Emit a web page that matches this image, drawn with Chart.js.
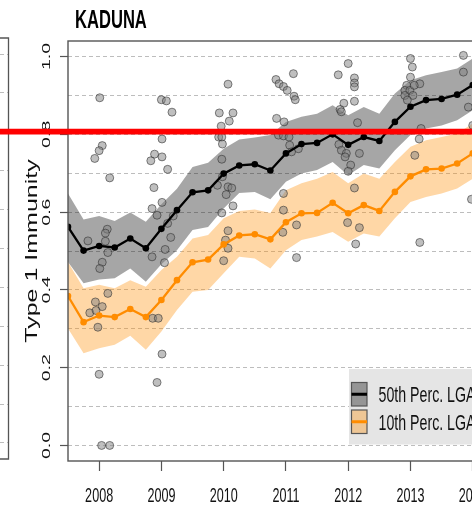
<!DOCTYPE html>
<html>
<head>
<meta charset="utf-8">
<title>KADUNA</title>
<script src="https://cdn.jsdelivr.net/npm/chart.js@4.4.1/dist/chart.umd.min.js"></script>
<style>
  html, body { margin: 0; padding: 0; background: #fff; overflow: hidden; }
  #wrap { width: 540px; height: 507px; }
</style>
</head>
<body>
<div id="wrap"><canvas id="chart" width="540" height="507"></canvas></div>
<script>
// quarterly time points (decimal years)
const years = [2007.5, 2007.75, 2008, 2008.25, 2008.5, 2008.75, 2009, 2009.25, 2009.5, 2009.75,
  2010, 2010.25, 2010.5, 2010.75, 2011, 2011.25, 2011.5, 2011.75, 2012, 2012.25, 2012.5, 2012.75,
  2013, 2013.25, 2013.5, 2013.75, 2014];

// 50th percentile LGA immunity with its band
const median = [0.562, 0.501, 0.513, 0.509, 0.532, 0.507, 0.557, 0.605, 0.651, 0.656,
  0.699, 0.720, 0.723, 0.707, 0.751, 0.775, 0.778, 0.800, 0.773, 0.793, 0.783, 0.832,
  0.871, 0.888, 0.891, 0.902, 0.927];
const medianHi = [0.648, 0.581, 0.590, 0.577, 0.599, 0.575, 0.620, 0.660, 0.716, 0.727,
  0.763, 0.787, 0.792, 0.798, 0.832, 0.845, 0.853, 0.875, 0.849, 0.870, 0.853, 0.905,
  0.939, 0.952, 0.960, 0.969, 0.995];
const medianLo = [0.472, 0.417, 0.427, 0.430, 0.455, 0.421, 0.466, 0.502, 0.554, 0.562,
  0.609, 0.649, 0.652, 0.633, 0.678, 0.699, 0.708, 0.729, 0.695, 0.721, 0.712, 0.759,
  0.798, 0.815, 0.823, 0.836, 0.862];

// 10th percentile LGA immunity with its band
const p10 = [0.384, 0.317, 0.334, 0.330, 0.351, 0.330, 0.374, 0.425, 0.471, 0.478,
  0.517, 0.540, 0.543, 0.530, 0.574, 0.597, 0.598, 0.624, 0.597, 0.618, 0.603, 0.652,
  0.692, 0.710, 0.712, 0.725, 0.751];
const p10Hi = [0.472, 0.404, 0.413, 0.404, 0.425, 0.408, 0.451, 0.485, 0.532, 0.541,
  0.584, 0.603, 0.607, 0.598, 0.656, 0.674, 0.686, 0.703, 0.674, 0.699, 0.686, 0.729,
  0.768, 0.785, 0.793, 0.802, 0.828];
const p10Lo = [0.301, 0.237, 0.250, 0.259, 0.282, 0.246, 0.293, 0.348, 0.395, 0.400,
  0.443, 0.485, 0.481, 0.455, 0.502, 0.528, 0.537, 0.549, 0.524, 0.545, 0.537, 0.584,
  0.626, 0.639, 0.648, 0.661, 0.686];

// individual LGA estimates (jittered around each year)
const scatterYear = [
  2008.01, 2008.05, 2008.00, 2007.93, 2008.17, 2007.82, 2008.13, 2008.10, 2008.10, 2008.14, 2008.05,
  2008.01, 2008.14, 2007.94, 2008.05, 2007.85, 2007.95, 2007.98, 2008.00, 2008.04, 2008.17,
  2009.00, 2009.08, 2009.17, 2009.01, 2008.89, 2008.83, 2009.01, 2009.10, 2008.88, 2008.85, 2009.01,
  2008.93, 2009.10, 2009.19, 2008.85, 2009.15, 2009.06, 2009.05, 2008.86, 2008.95, 2009.01, 2008.93,
  2010.07, 2009.93, 2010.15, 2010.09, 2009.96, 2009.92, 2009.97, 2009.98, 2009.97, 2009.98, 2009.90,
  2010.07, 2010.13, 2010.04, 2010.15, 2009.97, 2010.07, 2010.03, 2010.07, 2010.00,
  2011.12, 2010.84, 2010.89, 2010.96, 2011.02, 2011.13, 2011.15, 2010.85, 2010.97, 2010.88, 2010.96,
  2011.05, 2011.06, 2011.09, 2011.20, 2010.96, 2010.96, 2010.95, 2011.17, 2011.17,
  2012.00, 2011.84, 2012.10, 2012.10, 2012.10, 2011.93, 2012.10, 2011.87, 2011.89, 2012.15, 2011.85,
  2011.89, 2011.97, 2011.95, 2012.18, 2012.04, 2012.00, 2012.10, 2011.99, 2012.18, 2012.12,
  2013.00, 2013.03, 2013.00, 2013.15, 2012.94, 2012.91, 2012.99, 2013.06, 2012.91, 2013.04, 2012.95,
  2013.17, 2013.14, 2013.07, 2013.15,
  2013.85, 2013.85, 2013.93, 2014.00, 2013.98
];
const scatterValue = [
  0.894, 0.771, 0.758, 0.738, 0.688, 0.526, 0.556, 0.546, 0.525, 0.496, 0.471,
  0.455, 0.391, 0.369, 0.357, 0.341, 0.347, 0.304, 0.183, 0.000, 0.000,
  0.889, 0.886, 0.857, 0.788, 0.749, 0.732, 0.742, 0.710, 0.663, 0.609, 0.625,
  0.592, 0.571, 0.590, 0.485, 0.535, 0.504, 0.470, 0.327, 0.327, 0.235, 0.162,
  0.929, 0.855, 0.855, 0.834, 0.821, 0.793, 0.793, 0.775, 0.736, 0.691, 0.669,
  0.665, 0.662, 0.645, 0.616, 0.598, 0.552, 0.528, 0.507, 0.475,
  0.956, 0.941, 0.930, 0.923, 0.913, 0.898, 0.889, 0.841, 0.832, 0.798, 0.796,
  0.793, 0.772, 0.755, 0.763, 0.648, 0.605, 0.548, 0.567, 0.483,
  0.982, 0.953, 0.945, 0.932, 0.922, 0.880, 0.885, 0.864, 0.858, 0.830, 0.774,
  0.759, 0.751, 0.742, 0.751, 0.721, 0.705, 0.662, 0.573, 0.560, 0.518,
  0.995, 0.973, 0.947, 0.930, 0.926, 0.913, 0.913, 0.926, 0.900, 0.900, 0.888,
  0.815, 0.788, 0.746, 0.522,
  1.003, 0.960, 0.870, 0.823, 0.633
];

// axis ticks
const xTickYears = [2008, 2009, 2010, 2011, 2012, 2013, 2014, 2015];
const yGridValues = [0, 0.1, 0.2, 0.3, 0.4, 0.5, 0.6, 0.7, 0.8, 0.9, 1.0];
const yLabelValues = [0, 0.2, 0.4, 0.6, 0.8, 1.0];

const legendLabels = ["50th Perc. LGA", "10th Perc. LGA"];
const redLineLevel = 0.807;

const FONT = '"Liberation Sans", Arial, Helvetica, sans-serif';
const GREY_BAND = "rgba(0,0,0,0.35)";
const ORANGE = "#ff8c00";
const ORANGE_BAND = "rgba(255,140,0,0.35)";

function pairs(xs, ys) {
  return xs.map((x, i) => ({ x: x, y: ys[i] }));
}

function isLabelled(v) {
  return Math.round(v * 10) % 2 === 0;
}

// text in the reference is narrow, so squeeze it horizontally
function drawText(ctx, text, x, y, size, squeeze, opts) {
  opts = opts || {};
  ctx.save();
  ctx.font = (opts.bold ? "bold " : "") + size + "px " + FONT;
  ctx.fillStyle = opts.color || "#111";
  ctx.textAlign = opts.align || "left";
  ctx.textBaseline = "alphabetic";
  ctx.translate(x, y);
  if (opts.vertical) {
    ctx.rotate(-Math.PI / 2);
    ctx.scale(1, squeeze);
  } else {
    ctx.scale(squeeze, 1);
  }
  ctx.fillText(text, 0, 0);
  ctx.restore();
}

const decorations = {
  id: "decorations",
  afterDraw(chart) {
    const ctx = chart.ctx;
    const area = chart.chartArea;
    const xs = chart.scales.x;
    const ys = chart.scales.y;

    // piece of the neighbouring panel on the left
    ctx.save();
    ctx.strokeStyle = "#bdbdbd";
    ctx.lineWidth = 1;
    ctx.setLineDash([4, 3]);
    yGridValues.forEach((v) => {
      const y = Math.round(ys.getPixelForValue(v) - 3) + 0.5;
      ctx.beginPath();
      ctx.moveTo(0, y);
      ctx.lineTo(8, y);
      ctx.stroke();
    });
    ctx.setLineDash([]);
    ctx.strokeStyle = "#555";
    ctx.lineWidth = 1.3;
    ctx.beginPath();
    ctx.moveTo(0, area.top - 3);
    ctx.lineTo(8.5, area.top - 3);
    ctx.lineTo(8.5, area.bottom - 2);
    ctx.lineTo(0, area.bottom - 2);
    ctx.stroke();

    // plot frame
    ctx.strokeStyle = "#555";
    ctx.lineWidth = 1.4;
    ctx.strokeRect(area.left, area.top, area.right - area.left, area.bottom - area.top);
    ctx.restore();

    // legend
    const lx = 349, ltop = 369, lbottom = 444.5;
    ctx.save();
    ctx.fillStyle = "#e5e5e5";
    ctx.fillRect(lx, ltop, 200, lbottom - ltop);
    const boxes = [
      { y: 382.5, fill: GREY_BAND, line: "#000" },
      { y: 410, fill: ORANGE_BAND, line: ORANGE },
    ];
    boxes.forEach((b, i) => {
      ctx.fillStyle = b.fill;
      ctx.fillRect(351.5, b.y, 15.5, 23.5);
      ctx.strokeStyle = "#555";
      ctx.lineWidth = 1.2;
      ctx.strokeRect(351.5, b.y, 15.5, 23.5);
      ctx.strokeStyle = b.line;
      ctx.lineWidth = 3;
      ctx.beginPath();
      ctx.moveTo(351.5, b.y + 11.75);
      ctx.lineTo(367, b.y + 11.75);
      ctx.stroke();
      drawText(ctx, legendLabels[i], 378.5, b.y + 19.5, 21.5, 0.66);
    });
    ctx.restore();

    // tick labels
    yLabelValues.forEach((v) => {
      drawText(ctx, v.toFixed(1), 50, ys.getPixelForValue(v), 19.5, 0.6, { vertical: true, align: "center" });
    });
    xTickYears.forEach((v) => {
      drawText(ctx, String(v), xs.getPixelForValue(v), 501.5, 21, 0.6, { align: "center" });
    });

    // axis title and panel title
    drawText(ctx, "Type 1 Immunity", 36.5, (area.top + area.bottom) / 2, 25, 0.66, { vertical: true, align: "center" });
    drawText(ctx, "KADUNA", 75, 28.3, 25.5, 0.65, { bold: true, color: "#000" });

    // red reference line across the whole figure
    const ry = ys.getPixelForValue(redLineLevel);
    ctx.save();
    ctx.strokeStyle = "#ff0000";
    ctx.lineWidth = 5.8;
    ctx.beginPath();
    ctx.moveTo(0, ry);
    ctx.lineTo(chart.width, ry);
    ctx.stroke();
    ctx.restore();
  },
};

function bandSet(values, fill, color) {
  return {
    data: pairs(years, values),
    fill: fill,
    backgroundColor: color,
    borderColor: "rgba(0,0,0,0)",
    borderWidth: 0,
    pointRadius: 0,
    order: 2,
  };
}

new Chart(document.getElementById("chart"), {
  type: "line",
  data: {
    datasets: [
      {
        label: legendLabels[0],
        data: pairs(years, median),
        borderColor: "#000",
        backgroundColor: "#000",
        borderWidth: 2.3,
        pointRadius: 3.3,
        pointBorderWidth: 0,
        fill: false,
        order: 0,
      },
      {
        label: legendLabels[1],
        data: pairs(years, p10),
        borderColor: ORANGE,
        backgroundColor: ORANGE,
        borderWidth: 2.3,
        pointRadius: 3.3,
        pointBorderWidth: 0,
        fill: false,
        order: 0,
      },
      {
        type: "scatter",
        data: pairs(scatterYear, scatterValue),
        backgroundColor: "rgba(128,128,128,0.5)",
        borderColor: "rgba(40,40,40,0.55)",
        borderWidth: 1,
        pointRadius: 4,
        order: 1,
      },
      bandSet(medianHi, "+1", GREY_BAND),
      bandSet(medianLo, false, GREY_BAND),
      bandSet(p10Hi, "+1", ORANGE_BAND),
      bandSet(p10Lo, false, ORANGE_BAND),
    ],
  },
  options: {
    responsive: false,
    animation: false,
    events: [],
    layout: { padding: { top: 41, right: 5, left: 0, bottom: 0 } },
    plugins: {
      legend: { display: false },
      title: { display: false },
      tooltip: { enabled: false },
    },
    scales: {
      x: {
        type: "linear",
        min: 2007.5,
        max: 2015,
        afterBuildTicks: (s) => { s.ticks = xTickYears.map((v) => ({ value: v })); },
        afterFit: (s) => { s.height = 46; },
        ticks: { display: false },
        grid: { drawOnChartArea: false, drawTicks: true, tickLength: 10, tickColor: "#555", tickWidth: 1.2 },
        border: { display: false },
      },
      y: {
        type: "linear",
        min: -0.04,
        max: 1.04,
        afterBuildTicks: (s) => { s.ticks = yGridValues.map((v) => ({ value: v })); },
        afterFit: (s) => { s.width = 68; },
        ticks: { display: false },
        grid: {
          color: "#bdbdbd",
          lineWidth: 1,
          drawTicks: true,
          tickLength: 8,
          tickWidth: 1.2,
          tickColor: (c) => (isLabelled(c.tick.value) ? "#555" : "rgba(0,0,0,0)"),
        },
        border: { display: false, dash: [4, 3] },
      },
    },
  },
  plugins: [decorations],
});
</script>
</body>
</html>
